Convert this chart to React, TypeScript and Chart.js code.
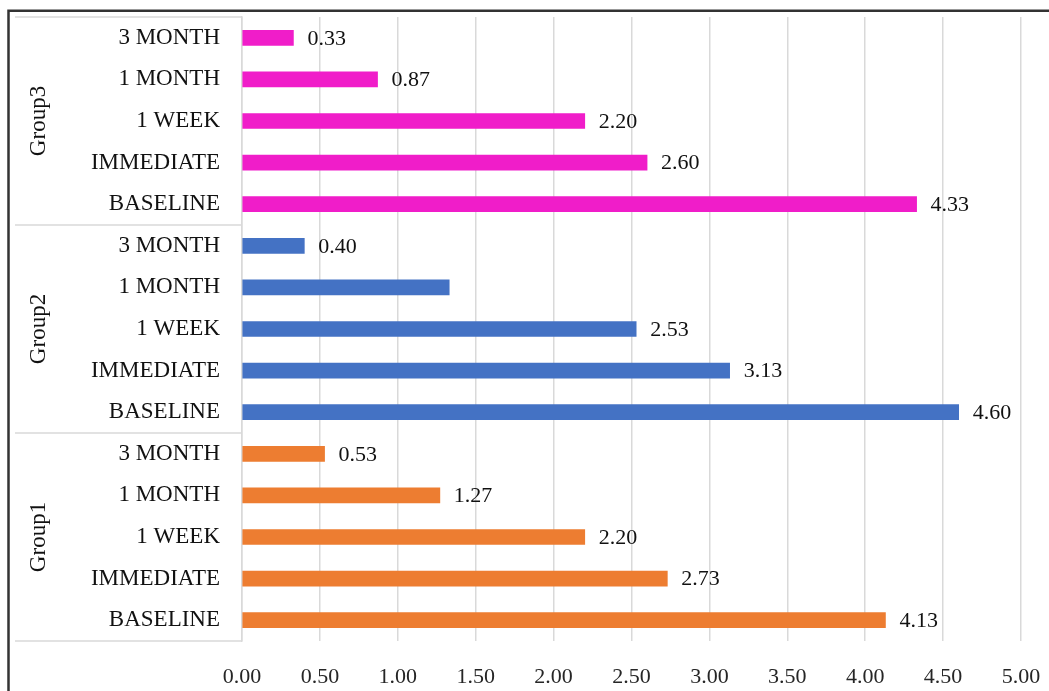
import React, { useEffect, useRef } from "react";
import { Chart, registerables } from "chart.js";

Chart.register(...registerables);

// Time points within each group, listed top to bottom
const timePoints = ["3 MONTH", "1 MONTH", "1 WEEK", "IMMEDIATE", "BASELINE"];

// Groups, listed top to bottom
const groupNames = ["Group3", "Group2", "Group1"];

// Scores per group, same order as timePoints
const group3Values = [0.33, 0.87, 2.2, 2.6, 4.33];
const group2Values = [0.4, 1.33, 2.53, 3.13, 4.6];
const group1Values = [0.53, 1.27, 2.2, 2.73, 4.13];

// Whether a value label is printed next to each bar
const group3Labelled = [true, true, true, true, true];
const group2Labelled = [true, false, true, true, true];
const group1Labelled = [true, true, true, true, true];

// Value-axis ticks
const axisMin = 0;
const axisMax = 5;
const axisStep = 0.5;

const groupColors = ["#F01DC9", "#4472C4", "#ED7D31"];

const FONT = "'Liberation Serif', 'Times New Roman', serif";
const GRID = "#d9d9d9";
const NUM_SIZE = 22;
const CAT_SIZE = 23;

export default function App() {
  const canvasRef = useRef<HTMLCanvasElement | null>(null);

  useEffect(() => {
    const canvas = canvasRef.current;
    if (!canvas) return;

    const groupValues = [group3Values, group2Values, group1Values];
    const groupLabelled = [group3Labelled, group2Labelled, group1Labelled];

    const labels: string[] = [];
    const values: number[] = [];
    const colors: string[] = [];
    const showLabel: boolean[] = [];
    groupValues.forEach((vals, g) => {
      vals.forEach((v, i) => {
        labels.push(timePoints[i]);
        values.push(v);
        colors.push(groupColors[g]);
        showLabel.push(groupLabelled[g][i]);
      });
    });

    // Frame, group separators, rotated group names and bar value labels
    const decorations = {
      id: "decorations",
      beforeDraw(chart: any) {
        const { ctx } = chart;
        ctx.save();
        ctx.strokeStyle = "#333";
        ctx.lineWidth = 2.5;
        ctx.beginPath();
        ctx.moveTo(8.5, chart.height);
        ctx.lineTo(8.5, 10.75);
        ctx.lineTo(chart.width, 10.75);
        ctx.stroke();
        ctx.restore();
      },
      afterDraw(chart: any) {
        const { ctx, chartArea } = chart;
        const yScale = chart.scales.y;
        const n = timePoints.length;
        const step = (chartArea.bottom - chartArea.top) / labels.length;

        ctx.save();
        ctx.strokeStyle = GRID;
        ctx.lineWidth = 1.5;
        for (let g = 0; g <= groupNames.length; g++) {
          const y = chartArea.top + g * n * step;
          ctx.beginPath();
          ctx.moveTo(15, y);
          ctx.lineTo(chartArea.left, y);
          ctx.stroke();
        }

        ctx.fillStyle = "#111";
        ctx.font = `${CAT_SIZE}px ${FONT}`;
        ctx.textAlign = "center";
        ctx.textBaseline = "middle";
        groupNames.forEach((name, g) => {
          const yTop = yScale.getPixelForValue(g * n);
          const yBot = yScale.getPixelForValue(g * n + n - 1);
          const yMid = (yTop + yBot) / 2;
          ctx.save();
          ctx.translate(39, yMid);
          ctx.rotate(-Math.PI / 2);
          ctx.fillText(name, 0, 0);
          ctx.restore();
        });

        const meta = chart.getDatasetMeta(0);
        ctx.font = `${NUM_SIZE}px ${FONT}`;
        ctx.textAlign = "left";
        meta.data.forEach((bar: any, i: number) => {
          if (!showLabel[i]) return;
          ctx.fillText(values[i].toFixed(2), bar.x + 14, bar.y + 1);
        });
        ctx.restore();
      },
    };

    const chart = new Chart(canvas, {
      type: "bar",
      data: {
        labels,
        datasets: [
          {
            data: values,
            backgroundColor: colors,
            borderWidth: 0,
            barThickness: 15,
          },
        ],
      },
      options: {
        indexAxis: "y",
        responsive: false,
        animation: false,
        devicePixelRatio: 1,
        layout: { padding: { top: 17, right: 28, left: 0, bottom: 0 } },
        plugins: {
          legend: { display: false },
          tooltip: { enabled: false },
        },
        scales: {
          x: {
            type: "linear",
            min: axisMin,
            max: axisMax,
            ticks: {
              stepSize: axisStep,
              callback: (v: any) => Number(v).toFixed(2),
              font: { family: FONT, size: NUM_SIZE },
              color: "#262626",
              padding: 23,
              maxRotation: 0,
            },
            grid: { color: GRID, lineWidth: 1.5, drawTicks: false },
            border: { display: false },
            afterFit: (scale: any) => {
              scale.height = 50;
              scale.paddingLeft = 0;
              scale.paddingRight = 0;
            },
          },
          y: {
            type: "category",
            ticks: {
              font: { family: FONT, size: CAT_SIZE },
              color: "#111",
              padding: 22,
              autoSkip: false,
            },
            grid: { display: false, drawTicks: false },
            border: { display: true, color: GRID, width: 1.5 },
            afterFit: (scale: any) => {
              scale.width = 242;
              scale.paddingTop = 0;
              scale.paddingBottom = 0;
            },
          },
        },
      },
      plugins: [decorations],
    });

    return () => chart.destroy();
  }, []);

  return (
    <div style={{ position: "absolute", left: 0, top: 0, width: 1049, height: 691, background: "#fff" }}>
      <canvas ref={canvasRef} width={1049} height={691} style={{ display: "block" }} />
    </div>
  );
}
